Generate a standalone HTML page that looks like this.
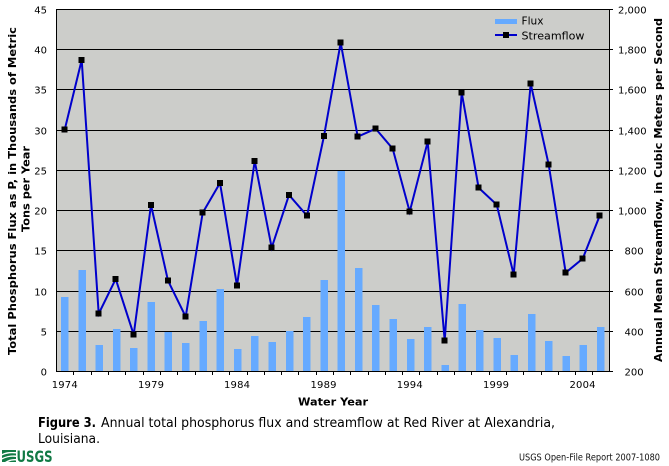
<!DOCTYPE html>
<html><head><meta charset="utf-8"><style>
html,body{margin:0;padding:0;background:#fff;}
svg{display:block;}
text{font-family:"DejaVu Sans","Liberation Sans",sans-serif;}
</style></head><body>
<svg width="669" height="466" viewBox="0 0 669 466" xmlns="http://www.w3.org/2000/svg" shape-rendering="crispEdges">
<rect x="0" y="0" width="669" height="466" fill="#fff"/>
<!-- plot bg -->
<rect x="56" y="9" width="554" height="363" fill="#cccdca"/>
<!-- gridlines -->
<g fill="#000">
<rect x="56" y="9" width="554" height="1"/>
<rect x="56" y="49" width="554" height="1"/>
<rect x="56" y="89" width="554" height="1"/>
<rect x="56" y="130" width="554" height="1"/>
<rect x="56" y="170" width="554" height="1"/>
<rect x="56" y="210" width="554" height="1"/>
<rect x="56" y="250" width="554" height="1"/>
<rect x="56" y="291" width="554" height="1"/>
<rect x="56" y="331" width="554" height="1"/>
</g>
<!-- bars -->
<g fill="#66aaff">
<rect x="61" y="297" width="7.5" height="74"/>
<rect x="78.3" y="270" width="7.5" height="101"/>
<rect x="95.6" y="345" width="7.5" height="26"/>
<rect x="112.9" y="329" width="7.5" height="42"/>
<rect x="130.2" y="348" width="7.5" height="23"/>
<rect x="147.5" y="302" width="7.5" height="69"/>
<rect x="164.7" y="332" width="7.5" height="39"/>
<rect x="182" y="343" width="7.5" height="28"/>
<rect x="199.3" y="321" width="7.5" height="50"/>
<rect x="216.6" y="289" width="7.5" height="82"/>
<rect x="233.9" y="349" width="7.5" height="22"/>
<rect x="251.2" y="336" width="7.5" height="35"/>
<rect x="268.5" y="342" width="7.5" height="29"/>
<rect x="285.8" y="331" width="7.5" height="40"/>
<rect x="303.1" y="317" width="7.5" height="54"/>
<rect x="320.4" y="280" width="7.5" height="91"/>
<rect x="337.6" y="171" width="7.5" height="200"/>
<rect x="354.9" y="268" width="7.5" height="103"/>
<rect x="372.2" y="305" width="7.5" height="66"/>
<rect x="389.5" y="319" width="7.5" height="52"/>
<rect x="406.8" y="339" width="7.5" height="32"/>
<rect x="424.1" y="327" width="7.5" height="44"/>
<rect x="441.4" y="365" width="7.5" height="6"/>
<rect x="458.7" y="304" width="7.5" height="67"/>
<rect x="476" y="330" width="7.5" height="41"/>
<rect x="493.3" y="338" width="7.5" height="33"/>
<rect x="510.6" y="355" width="7.5" height="16"/>
<rect x="527.8" y="314" width="7.5" height="57"/>
<rect x="545.1" y="341" width="7.5" height="30"/>
<rect x="562.4" y="356" width="7.5" height="15"/>
<rect x="579.7" y="345" width="7.5" height="26"/>
<rect x="597" y="327" width="7.5" height="44"/>
</g>
<!-- borders -->
<g fill="#000">
<rect x="56" y="9" width="1" height="363"/>
<rect x="609" y="9" width="1" height="363"/>
<rect x="56" y="371" width="554" height="1"/>
</g>
<!-- right ticks -->
<g fill="#000">
<rect x="610" y="9" width="3" height="1"/>
<rect x="610" y="49" width="3" height="1"/>
<rect x="610" y="89" width="3" height="1"/>
<rect x="610" y="130" width="3" height="1"/>
<rect x="610" y="170" width="3" height="1"/>
<rect x="610" y="210" width="3" height="1"/>
<rect x="610" y="250" width="3" height="1"/>
<rect x="610" y="291" width="3" height="1"/>
<rect x="610" y="331" width="3" height="1"/>
<rect x="610" y="371" width="3" height="1"/>
</g>
<!-- bottom ticks -->
<g fill="#000">
<rect x="73" y="372" width="1" height="3"/>
<rect x="91" y="372" width="1" height="3"/>
<rect x="108" y="372" width="1" height="3"/>
<rect x="125" y="372" width="1" height="3"/>
<rect x="143" y="372" width="1" height="3"/>
<rect x="160" y="372" width="1" height="3"/>
<rect x="177" y="372" width="1" height="3"/>
<rect x="195" y="372" width="1" height="3"/>
<rect x="212" y="372" width="1" height="3"/>
<rect x="229" y="372" width="1" height="3"/>
<rect x="247" y="372" width="1" height="3"/>
<rect x="264" y="372" width="1" height="3"/>
<rect x="281" y="372" width="1" height="3"/>
<rect x="298" y="372" width="1" height="3"/>
<rect x="316" y="372" width="1" height="3"/>
<rect x="333" y="372" width="1" height="3"/>
<rect x="350" y="372" width="1" height="3"/>
<rect x="368" y="372" width="1" height="3"/>
<rect x="385" y="372" width="1" height="3"/>
<rect x="402" y="372" width="1" height="3"/>
<rect x="419" y="372" width="1" height="3"/>
<rect x="437" y="372" width="1" height="3"/>
<rect x="454" y="372" width="1" height="3"/>
<rect x="471" y="372" width="1" height="3"/>
<rect x="489" y="372" width="1" height="3"/>
<rect x="506" y="372" width="1" height="3"/>
<rect x="523" y="372" width="1" height="3"/>
<rect x="541" y="372" width="1" height="3"/>
<rect x="558" y="372" width="1" height="3"/>
<rect x="575" y="372" width="1" height="3"/>
<rect x="592" y="372" width="1" height="3"/>
</g>
<!-- streamflow line -->
<polyline shape-rendering="auto" fill="none" stroke="#0000cc" stroke-width="2" stroke-linejoin="miter" points="64.7,129.7 81.7,60 98.7,313.7 115.7,279 133.7,334.7 151,205 168,280.7 185.7,316.7 202.7,212.7 220,183 237,285.7 254.7,161 271.7,247.7 289,195 307,215.7 324,136 340.7,42.7 357.7,136.7 375.7,128.7 392.7,148.7 409.7,211.7 427.7,141.7 444.7,340.7 461.7,92.7 478.6,187.7 496.7,204.7 513.7,274.7 530.7,83.7 548.7,164.7 565.7,272.7 582.7,258.7 599.7,215.7"/>
<g fill="#000">
<rect x="61.7" y="126.7" width="6" height="6"/>
<rect x="78.7" y="57" width="6" height="6"/>
<rect x="95.7" y="310.7" width="6" height="6"/>
<rect x="112.7" y="276" width="6" height="6"/>
<rect x="130.7" y="331.7" width="6" height="6"/>
<rect x="148" y="202" width="6" height="6"/>
<rect x="165" y="277.7" width="6" height="6"/>
<rect x="182.7" y="313.7" width="6" height="6"/>
<rect x="199.7" y="209.7" width="6" height="6"/>
<rect x="217" y="180" width="6" height="6"/>
<rect x="234" y="282.7" width="6" height="6"/>
<rect x="251.7" y="158" width="6" height="6"/>
<rect x="268.7" y="244.7" width="6" height="6"/>
<rect x="286" y="192" width="6" height="6"/>
<rect x="304" y="212.7" width="6" height="6"/>
<rect x="321" y="133" width="6" height="6"/>
<rect x="337.7" y="39.7" width="6" height="6"/>
<rect x="354.7" y="133.7" width="6" height="6"/>
<rect x="372.7" y="125.7" width="6" height="6"/>
<rect x="389.7" y="145.7" width="6" height="6"/>
<rect x="406.7" y="208.7" width="6" height="6"/>
<rect x="424.7" y="138.7" width="6" height="6"/>
<rect x="441.7" y="337.7" width="6" height="6"/>
<rect x="458.7" y="89.7" width="6" height="6"/>
<rect x="475.6" y="184.7" width="6" height="6"/>
<rect x="493.7" y="201.7" width="6" height="6"/>
<rect x="510.7" y="271.7" width="6" height="6"/>
<rect x="527.7" y="80.7" width="6" height="6"/>
<rect x="545.7" y="161.7" width="6" height="6"/>
<rect x="562.7" y="269.7" width="6" height="6"/>
<rect x="579.7" y="255.7" width="6" height="6"/>
<rect x="596.7" y="212.7" width="6" height="6"/>
</g>
<!-- legend -->
<rect x="495" y="19" width="22" height="5" fill="#66aaff"/>
<text x="521.5" y="24.5" font-size="11" fill="#000" textLength="22" lengthAdjust="spacingAndGlyphs">Flux</text>
<rect x="495" y="34" width="22" height="2" fill="#0000cc"/>
<rect x="503" y="32" width="6" height="6" fill="#000"/>
<text x="521.5" y="39.5" font-size="11" fill="#000" textLength="63" lengthAdjust="spacingAndGlyphs">Streamflow</text>
<!-- left axis labels -->
<g font-size="10" fill="#000" text-anchor="end">
<text x="47" y="13.5">45</text>
<text x="47" y="53.5">40</text>
<text x="47" y="93.5">35</text>
<text x="47" y="134.5">30</text>
<text x="47" y="174.5">25</text>
<text x="47" y="214.5">20</text>
<text x="47" y="254.5">15</text>
<text x="47" y="295.5">10</text>
<text x="47" y="335.5">5</text>
<text x="47" y="375.5">0</text>
</g>
<!-- right axis labels -->
<g font-size="10" fill="#000">
<text x="618" y="13.5">2,000</text>
<text x="618" y="53.5">1,800</text>
<text x="618" y="93.5">1,600</text>
<text x="618" y="134.5">1,400</text>
<text x="618" y="174.5">1,200</text>
<text x="618" y="214.5">1,000</text>
<text x="624.5" y="254.5">800</text>
<text x="624.5" y="295.5">600</text>
<text x="624.5" y="335.5">400</text>
<text x="624.5" y="375.5">200</text>
</g>
<!-- x labels -->
<g font-size="10" fill="#000" text-anchor="middle">
<text x="64.7" y="388" textLength="26" lengthAdjust="spacing">1974</text>
<text x="151" y="388" textLength="26" lengthAdjust="spacing">1979</text>
<text x="237" y="388" textLength="26" lengthAdjust="spacing">1984</text>
<text x="323.5" y="388" textLength="26" lengthAdjust="spacing">1989</text>
<text x="409.7" y="388" textLength="26" lengthAdjust="spacing">1994</text>
<text x="496" y="388" textLength="26" lengthAdjust="spacing">1999</text>
<text x="582.5" y="388" textLength="26" lengthAdjust="spacing">2004</text>
</g>
<text x="333" y="405.5" font-size="11" font-weight="bold" text-anchor="middle" textLength="70" lengthAdjust="spacingAndGlyphs">Water Year</text>
<!-- axis titles -->
<text transform="translate(16,191) rotate(-90)" font-size="11" font-weight="bold" text-anchor="middle" textLength="328" lengthAdjust="spacingAndGlyphs">Total Phosphorus Flux as P, in Thousands of Metric</text>
<text transform="translate(29.5,189) rotate(-90)" font-size="11" font-weight="bold" text-anchor="middle" textLength="86" lengthAdjust="spacingAndGlyphs">Tons per Year</text>
<text transform="translate(662,190) rotate(-90)" font-size="11" font-weight="bold" text-anchor="middle" textLength="344" lengthAdjust="spacingAndGlyphs">Annual Mean Streamflow, in Cubic Meters per Second</text>
<!-- caption -->
<text x="38" y="427" font-size="13" font-weight="bold" textLength="58" lengthAdjust="spacingAndGlyphs">Figure 3.</text>
<text x="101" y="427" font-size="13" textLength="454" lengthAdjust="spacingAndGlyphs">Annual total phosphorus flux and streamflow at Red River at Alexandria,</text>
<text x="38" y="443" font-size="13" textLength="62" lengthAdjust="spacingAndGlyphs">Louisiana.</text>
<!-- USGS logo -->
<g fill="#117a45" shape-rendering="auto">
<path d="M2,450 L16,450 L16,452 L10,452 Q6,452 2,454 Z"/>
<path d="M2,455.5 Q8,452.5 16,453.5 L16,455.5 Q9,455 2,458 Z"/>
<path d="M2,459.5 Q9,456 16,457 L16,459 Q10,458.5 5,462 L2,462 Z"/>
<path d="M8,462 Q12,460 16,460.5 L16,462 Z"/>
<text x="16.5" y="462" font-family="Liberation Sans, sans-serif" font-size="16" font-weight="bold" textLength="36" lengthAdjust="spacingAndGlyphs">USGS</text>
</g>
<text x="519" y="460.5" font-family="Liberation Sans, sans-serif" font-size="10" fill="#111" textLength="141" lengthAdjust="spacingAndGlyphs">USGS Open-File Report 2007-1080</text>
</svg>
</body></html>
